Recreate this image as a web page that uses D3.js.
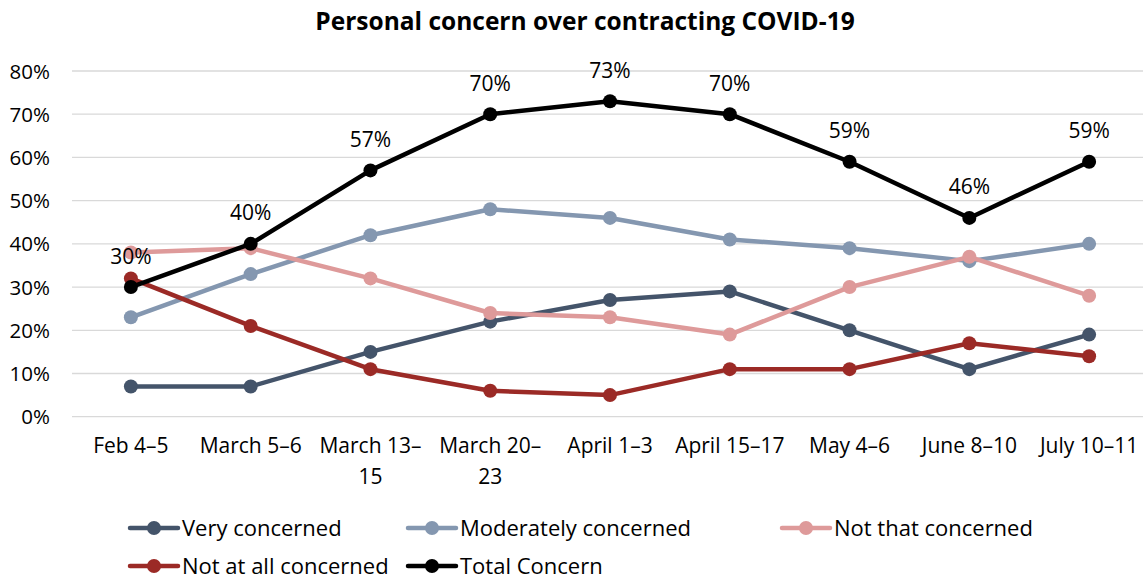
<!DOCTYPE html>
<html><head><meta charset="utf-8">
<script src="https://cdn.jsdelivr.net/npm/d3@7"></script>
<style>body{margin:0;background:#fff}svg{display:block}text{font-family:"Open Sans",Lato,sans-serif}</style>
</head><body><svg id="c" width="1143" height="581"></svg>
<script>
const categories = [["Feb 4–5"],["March 5–6"],["March 13–","15"],["March 20–","23"],["April 1–3"],["April 15–17"],["May 4–6"],["June 8–10"],["July 10–11"]];
const veryConcerned = [7,7,15,22,27,29,20,11,19];
const moderatelyConcerned = [23,33,42,48,46,41,39,36,40];
const notThatConcerned = [38,39,32,24,23,19,30,37,28];
const notAtAllConcerned = [32,21,11,6,5,11,11,17,14];
const totalConcern = [30,40,57,70,73,70,59,46,59];
const yTicks = [0,10,20,30,40,50,60,70,80];

const series = [
  {name:"Very concerned", values:veryConcerned, color:"#44546a"},
  {name:"Moderately concerned", values:moderatelyConcerned, color:"#8497b0"},
  {name:"Not that concerned", values:notThatConcerned, color:"#de9a9a"},
  {name:"Not at all concerned", values:notAtAllConcerned, color:"#9b2a26"},
  {name:"Total Concern", values:totalConcern, color:"#000000", labels:true}
];

const svg = d3.select("#c");
const x = d3.scaleBand().domain(d3.range(categories.length)).range([71,1149]);
const y = d3.scaleLinear().domain([0,80]).range([416.7,71]);

svg.append("text").attr("x",585).attr("y",30).attr("text-anchor","middle")
  .attr("font-size",24.5).attr("font-weight","bold").text("Personal concern over contracting COVID-19");

const g = svg.append("g");
g.selectAll("line.grid").data(yTicks).join("line")
  .attr("x1",72).attr("x2",1143).attr("y1",d=>y(d)).attr("y2",d=>y(d))
  .attr("stroke","#d9d9d9").attr("stroke-width",1.3);
g.selectAll("text.yt").data(yTicks).join("text")
  .attr("x",50).attr("y",d=>y(d)+7.5).attr("text-anchor","end").attr("font-size",20.5).attr("fill","#000")
  .text(d=>d+"%");

const xl = g.selectAll("text.xt").data(categories).join("text")
  .attr("text-anchor","middle").attr("font-size",21)
  .attr("transform",(d,i)=>`translate(${x(i)+x.bandwidth()/2},452.5)`);
xl.each(function(d){
  d3.select(this).selectAll("tspan").data(d).join("tspan").attr("x",0).attr("dy",(t,j)=>j?31:0).text(t=>t);
});

const cx = i => x(i)+x.bandwidth()/2;
const line = d3.line().x((d,i)=>cx(i)).y(d=>y(d));
series.forEach(s=>{
  g.append("path").attr("d",line(s.values)).attr("fill","none").attr("stroke",s.color).attr("stroke-width",4.5).attr("stroke-linejoin","round");
  g.selectAll(null).data(s.values).join("circle").attr("cx",(d,i)=>cx(i)).attr("cy",d=>y(d)).attr("r",7).attr("fill",s.color);
  if(s.labels){
    g.selectAll(null).data(s.values).join("text").attr("x",(d,i)=>cx(i)).attr("y",d=>y(d)-23.5)
      .attr("text-anchor","middle").attr("font-size",21).text(d=>d+"%");
  }
});

const legendPos = [[130,528],[408,528],[782,528],[130,566],[408,566]];
series.forEach((s,i)=>{
  const [lx,ly] = legendPos[i];
  const lg = svg.append("g").attr("transform",`translate(${lx},${ly})`);
  lg.append("line").attr("x1",0).attr("x2",48).attr("stroke",s.color).attr("stroke-width",4.5).attr("stroke-linecap","round");
  lg.append("circle").attr("cx",24).attr("r",7).attr("fill",s.color);
  lg.append("text").attr("x",52).attr("y",7.5).attr("font-size",22).text(s.name);
});
</script></body></html>
